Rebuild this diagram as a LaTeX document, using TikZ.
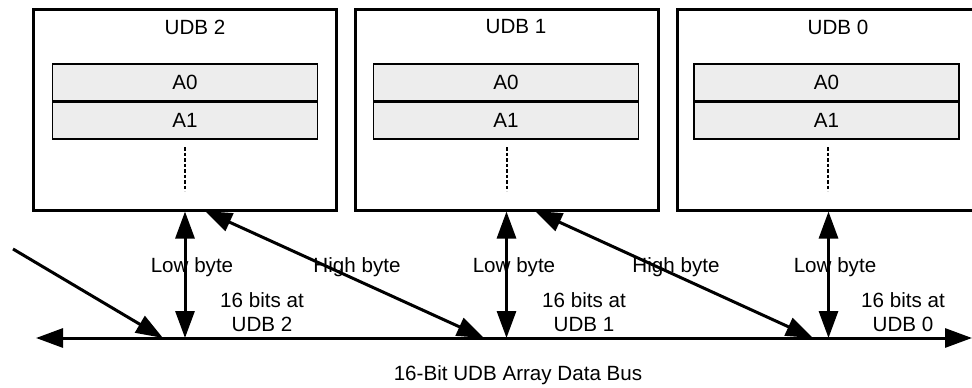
\documentclass[tikz,border=0pt]{standalone}
\usepackage{fontspec}
\setmainfont{Liberation Sans}
\usetikzlibrary{arrows.meta,calc}
\begin{document}
\begin{tikzpicture}[x=1pt,y=-1pt,
  font=\fontsize{20.6}{24}\selectfont,
  udb/.style={draw, line width=3pt, minimum width=303pt, minimum height=201pt, inner sep=0pt},
  reg/.style={draw, line width=1.8pt, fill=black!7, minimum width=265pt, minimum height=36.5pt, inner sep=0pt},
  lbl/.style={inner sep=0pt, align=center},
  dots/.style={line width=2pt, dash pattern=on 3.5pt off 2pt},
  dbl/.style={line width=3pt, {Triangle[length=27pt,width=19pt]}-{Triangle[length=27pt,width=19pt]}},
  sgl/.style={line width=3pt, -{Triangle[length=27pt,width=19pt]}}]
\useasboundingbox (0,0) rectangle (972,388);
\clip (0,0) rectangle (972,388);

% UDB boxes
\node[udb] (u2) at (185,109.5) {};
\node[udb] (u1) at (506.5,109.5) {};
\node[udb] (u0) at (828.5,109.5) {};

% titles
\node[lbl] (t2) at (195,27) {UDB 2};
\node[lbl] (t1) at (516,27) {UDB 1};
\node[lbl] (t0) at (838,27) {UDB 0};

% registers
\node[reg] (a02) at (185,82.5) {A0};
\node[reg, anchor=north] (a12) at (a02.south) {A1};
\node[reg] (a01) at (506,82.5) {A0};
\node[reg, anchor=north] (a11) at (a01.south) {A1};
\node[reg] (a00) at (826.5,82.5) {A0};
\node[reg, anchor=north] (a10) at (a00.south) {A1};

% dotted continuation
\draw[dots] (185,147) -- (185,191);
\draw[dots] (506.5,147) -- (506.5,191);
\draw[dots] (828,147) -- (828,191);

% bus points
\coordinate (busL) at (36,338);
\coordinate (busR) at (972,338);
\coordinate (b2) at (185,338);
\coordinate (b1) at (506.5,338);
\coordinate (b0) at (828.5,338);
\coordinate (h2top) at (205,211);
\coordinate (h2bot) at (484,338);
\coordinate (h1top) at (535,211);
\coordinate (h1bot) at (813,338);
\coordinate (inS) at (13,249);
\coordinate (inE) at (163,338);

% bus
\draw[dbl] (busL) -- (busR);

% low byte
\draw[dbl] (u2.south) -- (b2);
\draw[dbl] (u1.south) -- (b1);
\draw[dbl] (u0.south) -- (b0);

% high byte
\draw[dbl] (h2top) -- (h2bot);
\draw[dbl] (h1top) -- (h1bot);

% incoming from left
\draw[sgl] (inS) -- (inE);

% labels
\node[lbl] (lb2) at (192,267) {Low byte};
\node[lbl] (lb1) at (514,267) {Low byte};
\node[lbl] (lb0) at (835,267) {Low byte};
\node[lbl] (hb2) at (357,267) {High byte};
\node[lbl] (hb1) at (676,267) {High byte};
\node[lbl] (s2) at (262,312) {16 bits at\\UDB 2};
\node[lbl] (s1) at (584,312) {16 bits at\\UDB 1};
\node[lbl] (s0) at (903,312) {16 bits at\\UDB 0};
\node[lbl] (bus) at (518,375) {16-Bit UDB Array Data Bus};
\end{tikzpicture}
\end{document}
